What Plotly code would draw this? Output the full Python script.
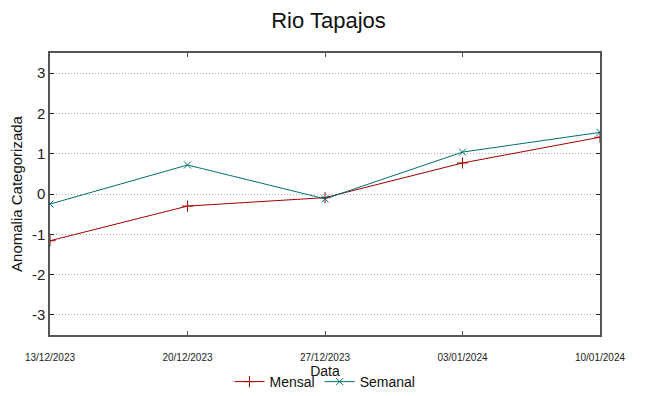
import plotly.graph_objects as go

dates = ["2023-12-13", "2023-12-20", "2023-12-27", "2024-01-03", "2024-01-10"]
tick_labels = ["13/12/2023", "20/12/2023", "27/12/2023", "03/01/2024", "10/01/2024"]
mensal = [-1.16, -0.30, -0.09, 0.77, 1.41]
semanal = [-0.25, 0.72, -0.12, 1.04, 1.53]
y_ticks = [-3, -2, -1, 0, 1, 2, 3]
y_tick_labels = ["-3", "-2", "-1", "0", "1", "2", "3"]

fig = go.Figure()
fig.add_trace(go.Scatter(
    x=dates, y=mensal, name="Mensal", mode="lines+markers",
    line=dict(color="#a00000", width=1),
    marker=dict(symbol="cross-thin", size=8, line=dict(color="#a00000", width=1), color="#a00000"),
))
fig.add_trace(go.Scatter(
    x=dates, y=semanal, name="Semanal", mode="lines+markers",
    line=dict(color="#007070", width=1),
    marker=dict(symbol="x-thin", size=7, line=dict(color="#007070", width=1), color="#007070"),
))

# page body has an 8px margin, so the figure is sized/placed to compensate
fig.update_layout(
    width=641, height=388,
    margin=dict(l=42, r=49, t=45, b=61, autoexpand=False),
    paper_bgcolor="white", plot_bgcolor="white",
    font=dict(family="Liberation Sans", color="#222"),
    title=dict(text="Rio Tapajos", x=0.5, xanchor="center", y=0.969, yanchor="middle",
               font=dict(size=22, color="#111")),
    showlegend=True,
    legend=dict(orientation="h", x=0.5, xanchor="center", y=-0.11, yanchor="top",
                font=dict(family="Liberation Sans", size=14, color="#111"),
                itemwidth=30, bgcolor="rgba(0,0,0,0)"),
)
fig.update_xaxes(
    type="date", range=[dates[0], dates[-1]],
    tickvals=dates, ticktext=tick_labels,
    ticks="inside", ticklen=4, tickcolor="#555",
    showline=True, linecolor="#555", linewidth=1.5, mirror="ticks",
    showgrid=False, zeroline=False, automargin=False,
    tickfont=dict(family="Liberation Sans", size=10, color="#222"),
    ticklabelstandoff=12,
    title=dict(text="Data", standoff=0, font=dict(family="Liberation Sans", size=14, color="#111")),
)
fig.update_yaxes(
    range=[-3.5, 3.5], tickvals=y_ticks, ticktext=y_tick_labels,
    ticks="inside", ticklen=4, tickcolor="#222",
    showline=True, linecolor="#555", linewidth=1.5, mirror="ticks",
    showgrid=True, gridcolor="#aaaaaa", griddash="1px,2px", gridwidth=1,
    zeroline=False, automargin=False,
    tickfont=dict(size=15, color="#222"),
    title=dict(text="Anomalia Categorizada", standoff=14, font=dict(size=15, color="#111")),
)

fig.write_html("out.html")
